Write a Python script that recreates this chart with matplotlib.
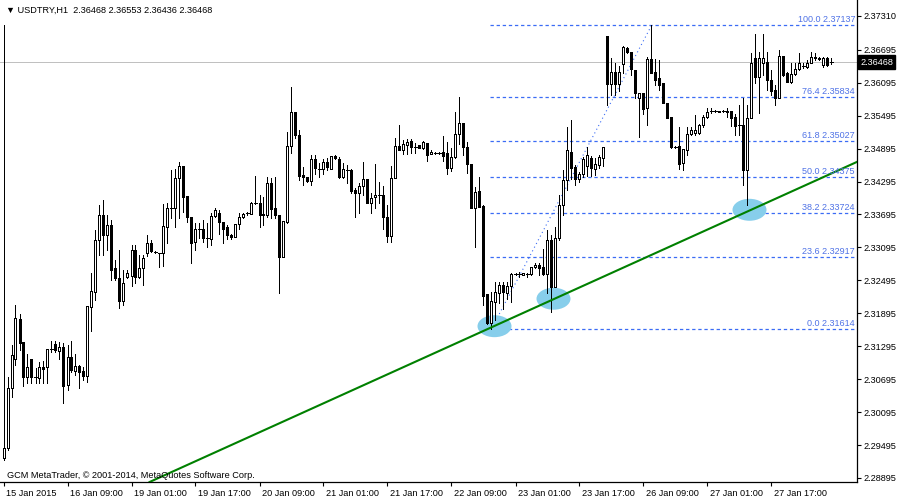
import numpy as np
import matplotlib
matplotlib.use("Agg")
import matplotlib.pyplot as plt
from matplotlib.patches import Ellipse
import matplotlib.transforms as mtransforms

plt.rcParams['font.family'] = ['Liberation Sans', 'DejaVu Sans']
plt.rcParams['lines.scale_dashes'] = False

# --- data (USDTRY H1) ---
opens = [
    2.2926, 2.2944, 2.3053, 2.3106, 2.3179, 2.3137, 2.3073, 2.3106, 2.3073, 2.3072,
    2.3092, 2.3092, 2.3124, 2.3134, 2.3121, 2.3128, 2.3059, 2.3110, 2.3084, 2.3094,
    2.3084, 2.3075, 2.3201, 2.3228, 2.3323, 2.3369, 2.3332, 2.3350, 2.3272, 2.3254,
    2.3212, 2.3256, 2.3257, 2.3305, 2.3256, 2.3272, 2.3299, 2.3318, 2.3301, 2.3299,
    2.3299, 2.3347, 2.3381, 2.3381, 2.3436, 2.3458, 2.3403, 2.3365, 2.3319, 2.3343,
    2.3343, 2.3327, 2.3325, 2.3367, 2.3372, 2.3356, 2.3347, 2.3332, 2.3328, 2.3352,
    2.3365, 2.3372, 2.3370, 2.3390, 2.3390, 2.3370, 2.3369, 2.3427, 2.3381, 2.3369,
    2.3292, 2.3356, 2.3494, 2.3556, 2.3514, 2.3441, 2.3438, 2.3430, 2.3471, 2.3452,
    2.3452, 2.3465, 2.3452, 2.3476, 2.3471, 2.3438, 2.3450, 2.3450, 2.3414, 2.3409,
    2.3421, 2.3434, 2.3390, 2.3401, 2.3405, 2.3405, 2.3365, 2.3330, 2.3436, 2.3494,
    2.3487, 2.3496, 2.3503, 2.3492, 2.3496, 2.3491, 2.3500, 2.3480, 2.3481, 2.3481,
    2.3483, 2.3481, 2.3454, 2.3474, 2.3516, 2.3536, 2.3492, 2.3461, 2.3381, 2.3412,
    2.3385, 2.3225, 2.3172, 2.3210, 2.3226, 2.3241, 2.3226, 2.3239, 2.3261, 2.3261,
    2.3259, 2.3261, 2.3261, 2.3274, 2.3277, 2.3274, 2.3261, 2.3323, 2.3237, 2.3327,
    2.3387, 2.3432, 2.3483, 2.3456, 2.3434, 2.3443, 2.3458, 2.3472, 2.3452, 2.3460,
    2.3472, 2.3695, 2.3607, 2.3629, 2.3607, 2.3644, 2.3673, 2.3665, 2.3633, 2.3582,
    2.3591, 2.3563, 2.3653, 2.3629, 2.3618, 2.3609, 2.3572, 2.3547, 2.3492, 2.3494,
    2.3463, 2.3487, 2.3516, 2.3518, 2.3518, 2.3532, 2.3547, 2.3558, 2.3558, 2.3558,
    2.3558, 2.3558, 2.3558, 2.3547, 2.3532, 2.3532, 2.3450, 2.3545, 2.3654, 2.3620,
    2.3645, 2.3647, 2.3614, 2.3596, 2.3582, 2.3658, 2.3627, 2.3611, 2.3625, 2.3634,
    2.3640, 2.3638, 2.3645, 2.3656, 2.3654, 2.3642, 2.3654, 2.36468,
]
highs = [
    2.3715, 2.3073, 2.3132, 2.3205, 2.3188, 2.3137, 2.3115, 2.3106, 2.3090, 2.3101,
    2.3103, 2.3124, 2.3139, 2.3139, 2.3137, 2.3135, 2.3132, 2.3139, 2.3115, 2.3095,
    2.3092, 2.3203, 2.3263, 2.3341, 2.3387, 2.3396, 2.3369, 2.3359, 2.3287, 2.3305,
    2.3268, 2.3268, 2.3314, 2.3314, 2.3296, 2.3296, 2.3332, 2.3323, 2.3303, 2.3299,
    2.3389, 2.3390, 2.3450, 2.3452, 2.3465, 2.3458, 2.3403, 2.3365, 2.3354, 2.3354,
    2.3359, 2.3354, 2.3372, 2.3381, 2.3378, 2.3356, 2.3350, 2.3334, 2.3352, 2.3372,
    2.3372, 2.3374, 2.3392, 2.3440, 2.3405, 2.3401, 2.3438, 2.3436, 2.3438, 2.3369,
    2.3358, 2.3520, 2.3602, 2.3556, 2.3523, 2.3456, 2.3438, 2.3478, 2.3478, 2.3463,
    2.3471, 2.3472, 2.3476, 2.3478, 2.3474, 2.3463, 2.3460, 2.3452, 2.3418, 2.3427,
    2.3465, 2.3434, 2.3409, 2.3461, 2.3429, 2.3421, 2.3387, 2.3458, 2.3509, 2.3532,
    2.3505, 2.3507, 2.3507, 2.3500, 2.3496, 2.3503, 2.3500, 2.3487, 2.3483, 2.3483,
    2.3512, 2.3501, 2.3491, 2.3556, 2.3583, 2.3536, 2.3501, 2.3461, 2.3420, 2.3438,
    2.3387, 2.3225, 2.3228, 2.3247, 2.3247, 2.3247, 2.3247, 2.3263, 2.3263, 2.3265,
    2.3263, 2.3263, 2.3274, 2.3281, 2.3281, 2.3307, 2.3341, 2.3332, 2.3347, 2.3405,
    2.3450, 2.3529, 2.3542, 2.3460, 2.3447, 2.3474, 2.3492, 2.3476, 2.3472, 2.3478,
    2.3492, 2.3695, 2.3654, 2.3645, 2.3640, 2.3676, 2.3675, 2.3665, 2.3633, 2.3591,
    2.3591, 2.3656, 2.37137, 2.3653, 2.3651, 2.3609, 2.3572, 2.3547, 2.3494, 2.3529,
    2.3489, 2.3529, 2.3529, 2.3551, 2.3534, 2.3551, 2.3563, 2.3563, 2.3560, 2.3558,
    2.3560, 2.3563, 2.3558, 2.3552, 2.3569, 2.3582, 2.3569, 2.3664, 2.3698, 2.3665,
    2.3698, 2.3665, 2.3633, 2.3605, 2.3669, 2.3658, 2.3629, 2.3645, 2.3645, 2.3664,
    2.3645, 2.3651, 2.3665, 2.3664, 2.3656, 2.3656, 2.3656, 2.36553,
]
lows = [
    2.2922, 2.2941, 2.3037, 2.3095, 2.3123, 2.3057, 2.3063, 2.3063, 2.3063, 2.3063,
    2.3063, 2.3063, 2.3119, 2.3119, 2.3106, 2.3026, 2.3050, 2.3083, 2.3077, 2.3053,
    2.3068, 2.3064, 2.3157, 2.3214, 2.3296, 2.3296, 2.3305, 2.3250, 2.3250, 2.3199,
    2.3205, 2.3254, 2.3239, 2.3245, 2.3254, 2.3241, 2.3294, 2.3301, 2.3299, 2.3274,
    2.3276, 2.3318, 2.3363, 2.3347, 2.3363, 2.3374, 2.3356, 2.3281, 2.3305, 2.3327,
    2.3319, 2.3310, 2.3314, 2.3365, 2.3334, 2.3318, 2.3325, 2.3325, 2.3328, 2.3343,
    2.3363, 2.3369, 2.3370, 2.3389, 2.3347, 2.3350, 2.3365, 2.3363, 2.3363, 2.3226,
    2.3292, 2.3354, 2.3481, 2.3509, 2.3432, 2.3423, 2.3429, 2.3423, 2.3443, 2.3438,
    2.3443, 2.3450, 2.3452, 2.3471, 2.3436, 2.3436, 2.3427, 2.3409, 2.3365, 2.3372,
    2.3405, 2.3390, 2.3372, 2.3381, 2.3390, 2.3343, 2.3319, 2.3319, 2.3436, 2.3487,
    2.3480, 2.3480, 2.3481, 2.3481, 2.3491, 2.3489, 2.3467, 2.3480, 2.3480, 2.3480,
    2.3467, 2.3443, 2.3449, 2.3472, 2.3498, 2.3478, 2.3445, 2.3381, 2.3310, 2.3383,
    2.3205, 2.3170, 2.31614, 2.3177, 2.3208, 2.3197, 2.3216, 2.3210, 2.3259, 2.3256,
    2.3259, 2.3256, 2.3259, 2.3272, 2.3259, 2.3259, 2.3226, 2.3192, 2.3237, 2.3323,
    2.3369, 2.3414, 2.3434, 2.3423, 2.3429, 2.3438, 2.3440, 2.3440, 2.3441, 2.3454,
    2.3458, 2.3569, 2.3587, 2.3587, 2.3594, 2.3627, 2.3664, 2.3624, 2.3582, 2.3511,
    2.3552, 2.3532, 2.3627, 2.3605, 2.3596, 2.3572, 2.3545, 2.3491, 2.3491, 2.3452,
    2.3450, 2.3478, 2.3514, 2.3514, 2.3516, 2.3529, 2.3545, 2.3554, 2.3556, 2.3556,
    2.3556, 2.3547, 2.3531, 2.3514, 2.3514, 2.3423, 2.3387, 2.3545, 2.3609, 2.3554,
    2.3624, 2.3596, 2.3587, 2.3569, 2.3582, 2.3622, 2.3611, 2.3609, 2.3624, 2.3633,
    2.3636, 2.3636, 2.3645, 2.3651, 2.3651, 2.3638, 2.3640, 2.36436,
]
closes = [
    2.2944, 2.3053, 2.3114, 2.3181, 2.3135, 2.3073, 2.3092, 2.3073, 2.3073, 2.3092,
    2.3088, 2.3124, 2.3124, 2.3123, 2.3128, 2.3057, 2.3110, 2.3086, 2.3094, 2.3083,
    2.3075, 2.3203, 2.3230, 2.3323, 2.3369, 2.3332, 2.3350, 2.3268, 2.3254, 2.3212,
    2.3245, 2.3263, 2.3305, 2.3256, 2.3272, 2.3290, 2.3318, 2.3303, 2.3301, 2.3299,
    2.3348, 2.3381, 2.3381, 2.3436, 2.3458, 2.3401, 2.3365, 2.3318, 2.3343, 2.3343,
    2.3327, 2.3327, 2.3367, 2.3378, 2.3356, 2.3343, 2.3332, 2.3328, 2.3352, 2.3365,
    2.3370, 2.3372, 2.3390, 2.3390, 2.3369, 2.3369, 2.3427, 2.3380, 2.3369, 2.3292,
    2.3358, 2.3494, 2.3556, 2.3514, 2.3440, 2.3438, 2.3430, 2.3471, 2.3454, 2.3452,
    2.3465, 2.3456, 2.3476, 2.3472, 2.3438, 2.3452, 2.3450, 2.3412, 2.3409, 2.3421,
    2.3434, 2.3390, 2.3399, 2.3405, 2.3405, 2.3365, 2.3330, 2.3436, 2.3494, 2.3487,
    2.3498, 2.3501, 2.3492, 2.3492, 2.3491, 2.3501, 2.3478, 2.3483, 2.3481, 2.3481,
    2.3476, 2.3454, 2.3474, 2.3516, 2.3536, 2.3492, 2.3461, 2.3381, 2.3410, 2.3383,
    2.3221, 2.3172, 2.3212, 2.3228, 2.3241, 2.3228, 2.3239, 2.3261, 2.3261, 2.3261,
    2.3263, 2.3261, 2.3274, 2.3277, 2.3272, 2.3261, 2.3323, 2.3237, 2.3327, 2.3387,
    2.3432, 2.3487, 2.3454, 2.3434, 2.3443, 2.3471, 2.3478, 2.3454, 2.3461, 2.3474,
    2.3492, 2.3607, 2.3629, 2.3607, 2.3629, 2.3675, 2.3665, 2.3634, 2.3591, 2.3591,
    2.3562, 2.3653, 2.3627, 2.3614, 2.3605, 2.3572, 2.3545, 2.3492, 2.3492, 2.3461,
    2.3489, 2.3516, 2.3523, 2.3523, 2.3532, 2.3547, 2.3556, 2.3558, 2.3558, 2.3556,
    2.3558, 2.3556, 2.3545, 2.3531, 2.3532, 2.3450, 2.3545, 2.3645, 2.3620, 2.3654,
    2.3654, 2.3614, 2.3594, 2.3582, 2.3658, 2.3624, 2.3611, 2.3625, 2.3634, 2.3645,
    2.3640, 2.3645, 2.3656, 2.3654, 2.3653, 2.3654, 2.3642, 2.36468,
]

time_tick_bars = [0, 16, 32, 48, 64, 80, 96, 112, 128, 144, 160, 176, 192]
time_tick_labels = ["15 Jan 2015", "16 Jan 09:00", "19 Jan 01:00", "19 Jan 17:00",
                    "20 Jan 09:00", "21 Jan 01:00", "21 Jan 17:00", "22 Jan 09:00",
                    "23 Jan 01:00", "23 Jan 17:00", "26 Jan 09:00", "27 Jan 01:00",
                    "27 Jan 17:00"]
price_ticks = [2.28895, 2.29495, 2.30095, 2.30695, 2.31295, 2.31895, 2.32495,
               2.33095, 2.33695, 2.34295, 2.34895, 2.35495, 2.36095, 2.36695, 2.37310]

fib_levels = [0.0, 23.6, 38.2, 50.0, 61.8, 76.4, 100.0]
fib_prices = [2.31614, 2.32917, 2.33724, 2.34375, 2.35027, 2.35834, 2.37137]
fib_anchor_bars = [122, 162]

trend_bars = [122, 186]
trend_prices = [2.3164, 2.3375]

touch_bars = [122.75, 137.5, 186.5]
touch_prices = [2.3166, 2.3216, 2.3378]

last_price = 2.36468
symbol = "USDTRY,H1"

# --- figure ---
fig = plt.figure(figsize=(9, 5), dpi=100)
ax = fig.add_axes([0, 18 / 500, 857 / 900, 482 / 500])
# 4 px per bar, bar centres on pixel centres
ax.set_xlim(-0.875, -0.875 + 857 / 4)
ax.set_ylim(2.28822, 2.37601)

x = np.arange(len(opens))
o = np.array(opens)
h = np.array(highs)
l = np.array(lows)
c = np.array(closes)

# current price line
ax.axhline(last_price, color='#c0c0c0', lw=0.72, zorder=1, antialiased=False)

# touch ellipses
for bx, py in zip(touch_bars, touch_prices):
    ax.add_patch(Ellipse((bx, py), 8.5, 0.0040, facecolor='#87ceeb',
                         edgecolor='none', zorder=1.5))

# fibonacci
fib_color = '#3b6cf5'
for lev, pr in zip(fib_levels, fib_prices):
    ax.plot([fib_anchor_bars[0] - 0.3, 214], [pr, pr], color=fib_color, lw=0.9,
            dashes=(2.4, 2.0), zorder=1.2, solid_capstyle='butt', dash_capstyle='butt')
    ax.annotate(f"{lev:.1f} {pr:.5f}", xy=(1, pr), xycoords=('axes fraction', 'data'),
                xytext=(-2, 1), textcoords='offset pixels', ha='right', va='bottom',
                fontsize=6.5, color='#4f72e6', zorder=4)
ax.plot(fib_anchor_bars, [fib_prices[0], fib_prices[-1]], color=fib_color, lw=0.8,
        dashes=(0.8, 2.2), zorder=1.2, dash_capstyle='butt')

# candles
ax.vlines(x, l, h, colors='black', lw=0.72, zorder=2, antialiased=False)
body_lo = np.minimum(o, c)
body_hi = np.maximum(o, c)
is_doji = (body_hi - body_lo) < 0.00006
up = c > o
for i in x[~is_doji]:
    ax.add_patch(plt.Rectangle((i - 0.25, body_lo[i]), 0.5, body_hi[i] - body_lo[i],
                               facecolor='white' if up[i] else 'black',
                               edgecolor='black', lw=0.72, zorder=2.5,
                               antialiased=False))
ax.hlines(o[is_doji], x[is_doji] - 0.3, x[is_doji] + 0.3, colors='black', lw=0.72,
          zorder=2.5, antialiased=False)

# trend line
ax.axline((trend_bars[0], trend_prices[0]), (trend_bars[1], trend_prices[1]),
          color='#008000', lw=1.5, zorder=3)

# axes styling
for side in ['left', 'top']:
    ax.spines[side].set_visible(False)
for side in ['right', 'bottom']:
    ax.spines[side].set_linewidth(0.9)
ax.yaxis.tick_right()
ax.set_yticks(price_ticks)
ax.set_yticklabels([f"{p:.5f}" for p in price_ticks])
ax.tick_params(axis='y', direction='out', length=3, width=0.8, pad=2, labelsize=6.6)
ax.set_xticks(time_tick_bars)
ax.set_xticklabels(time_tick_labels)
ax.tick_params(axis='x', direction='out', length=3, width=0.8, pad=2, labelsize=6.6)
offset = mtransforms.ScaledTranslation(3 / 100, 0, fig.dpi_scale_trans)
for lbl in ax.get_xticklabels():
    lbl.set_ha('left')
    lbl.set_transform(lbl.get_transform() + offset)

# last price box
ax.annotate(f"{last_price:.5f}", xy=(1, last_price), xycoords=('axes fraction', 'data'),
            xytext=(3, 0), textcoords='offset pixels', ha='left', va='center',
            fontsize=6.6, color='white', zorder=5, annotation_clip=False,
            bbox=dict(boxstyle='square,pad=0.25', facecolor='black', edgecolor='black'))

# header and footer texts
fig.text(6 / 900, 1 - 10 / 500,
         f"\u25bc {symbol}  {opens[-1]:.5f} {highs[-1]:.5f} {lows[-1]:.5f} {closes[-1]:.5f}",
         ha='left', va='center', fontsize=6.6, color='black')
ax.text(7 / 857, (482 - 475) / 482,
        "GCM MetaTrader, \u00a9 2001-2014, MetaQuotes Software Corp.",
        transform=ax.transAxes, ha='left', va='center', fontsize=6.6, color='black')

fig.savefig("out.png", dpi=100, facecolor='white')
